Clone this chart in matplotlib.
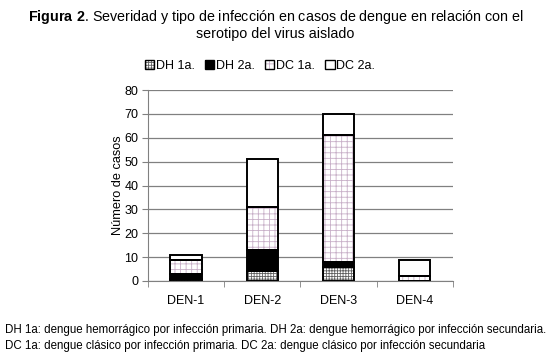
import matplotlib
matplotlib.use("Agg")
import matplotlib.pyplot as plt
import numpy as np
from matplotlib.patches import Patch

plt.rcParams['font.family'] = ['Liberation Sans', 'DejaVu Sans']
plt.rcParams['hatch.linewidth'] = 0.6
plt.rcParams['mathtext.fontset'] = 'custom'
plt.rcParams['mathtext.rm'] = 'Liberation Sans'
plt.rcParams['mathtext.bf'] = 'Liberation Sans:bold'

categories = ["DEN-1", "DEN-2", "DEN-3", "DEN-4"]
series_names = ["DH 1a.", "DH 2a.", "DC 1a.", "DC 2a."]
dh1a = [1, 4, 6, 0]
dh2a = [2, 9, 2, 0]
dc1a = [6, 18, 53, 2]
dc2a = [2, 20, 9, 7]
yticks = [0, 10, 20, 30, 40, 50, 60, 70, 80]

fig = plt.figure(figsize=(5.51, 3.63), dpi=100)
ax = fig.add_axes([0.2686, 0.2259, 0.5535, 0.526])

x = np.arange(len(categories))
w = 0.41
styles = [
    dict(face="white", hatch="++++++", hcol="#606060"),
    dict(face="black", hatch=None, hcol="black"),
    dict(face="white", hatch="+++", hcol="#c8b0c8"),
    dict(face="white", hatch=None, hcol="black"),
]
bottom = np.zeros(len(categories))
for vals, st in zip([dh1a, dh2a, dc1a, dc2a], styles):
    vals = np.array(vals, dtype=float)
    if st["hatch"]:
        ax.bar(x, vals, w, bottom=bottom, color=st["face"], hatch=st["hatch"],
               edgecolor=st["hcol"], linewidth=0, zorder=3)
    else:
        ax.bar(x, vals, w, bottom=bottom, color=st["face"], linewidth=0, zorder=3)
    ax.bar(x, vals, w, bottom=bottom, fill=False, edgecolor="black",
           linewidth=1.4, zorder=4)
    bottom += vals

ax.set_xlim(-0.5, len(categories) - 0.5)
ax.set_ylim(0, 80)
ax.set_yticks(yticks)
ax.yaxis.grid(True, color="#808080", linewidth=0.9, zorder=0)
ax.set_axisbelow(True)
ax.set_xticks(x)
ax.set_xticklabels(categories, fontsize=9)
ax.tick_params(axis="x", length=0, pad=10)
ax.set_xticks(np.arange(-0.5, len(categories)), minor=True)
ax.tick_params(axis="x", which="minor", length=4, direction="out", color="#808080")
ax.tick_params(axis="y", labelsize=9, length=4, color="#808080", pad=3)
for s in ["top", "right"]:
    ax.spines[s].set_visible(False)
for s in ["left", "bottom"]:
    ax.spines[s].set_color("#808080")
ax.set_ylabel("Número de casos", fontsize=9.2, labelpad=0)

handles = []
for st in styles:
    border = Patch(facecolor="none", edgecolor="black", linewidth=1.0)
    if st["hatch"]:
        fillp = Patch(facecolor=st["face"], hatch=st["hatch"], edgecolor=st["hcol"], linewidth=0)
    else:
        fillp = Patch(facecolor=st["face"], linewidth=0)
    handles.append((fillp, border))
fig.legend(handles, series_names, loc="center", bbox_to_anchor=(260/551, 1-66/363),
           ncol=4, frameon=False, fontsize=9, handlelength=0.75, handleheight=0.75,
           handletextpad=0.15, columnspacing=0.8, borderaxespad=0)

fig.text(0.5, 1-17/363, r"$\mathbf{Figura\ 2}$. Severidad y tipo de infección en casos de dengue en relación con el",
         ha="center", va="center", fontsize=10.3)
fig.text(0.5, 1-34/363, "serotipo del virus aislado", ha="center", va="center", fontsize=10.3)
fig.text(5/551, 1-330/363, "DH 1a: dengue hemorrágico por infección primaria. DH 2a: dengue hemorrágico por infección secundaria.",
         ha="left", va="center", fontsize=8.3)
fig.text(5/551, 1-346/363, "DC 1a: dengue clásico por infección primaria. DC 2a: dengue clásico por infección secundaria",
         ha="left", va="center", fontsize=8.3)

fig.savefig("out.png", dpi=100)
